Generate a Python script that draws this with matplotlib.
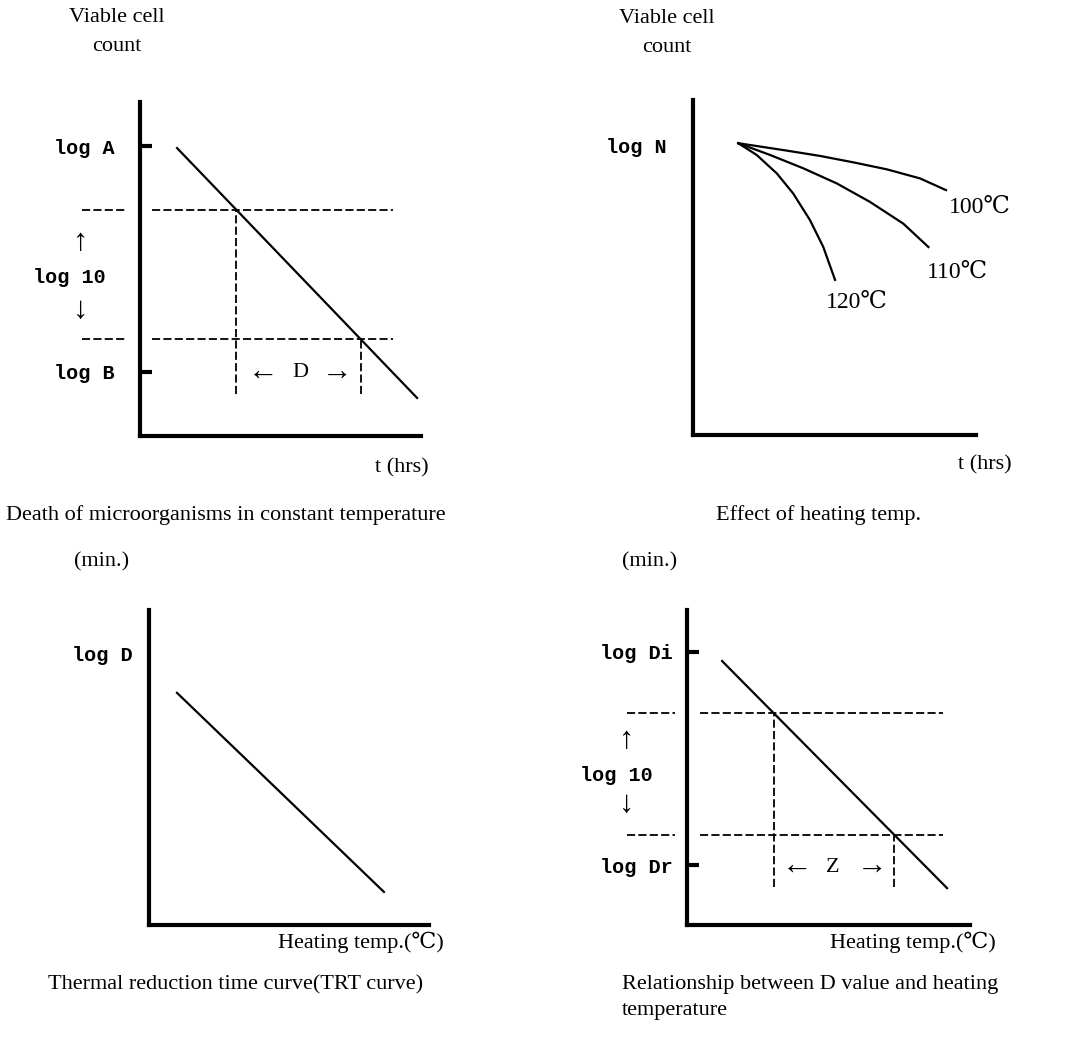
import numpy as np
import matplotlib.pyplot as plt

W, H = 1080, 1060

# Death of microorganisms at constant temperature (log survivors vs time)
death_t = [1.32, 9.86]
death_logn = [8.62, 1.14]
death_levels = [6.77, 2.90]          # one log cycle apart
death_ticks = [8.68, 1.92]
death_tick_labels = ['log A', 'log B']

# Effect of heating temperature on the survivor curve
temps = ['100℃', '110℃', '120℃']
curve_t = [
    [1.60, 3.31, 4.49, 5.66, 6.85, 8.02, 8.94],
    [1.60, 2.72, 3.90, 5.08, 6.25, 7.43, 8.32],
    [1.60, 2.25, 2.96, 3.54, 4.13, 4.60, 5.02],
]
curve_logn = [
    [8.71, 8.49, 8.33, 8.14, 7.93, 7.66, 7.31],
    [8.71, 8.36, 7.96, 7.51, 6.96, 6.31, 5.61],
    [8.71, 8.36, 7.81, 7.21, 6.42, 5.62, 4.63],
]

# Thermal reduction time curve
trt_temp = [1.0, 8.39]
trt_logd = [7.37, 1.05]

# D value vs heating temperature
dz_temp = [1.24, 9.19]
dz_logd = [8.38, 1.17]
dz_levels = [6.73, 2.86]
dz_ticks = [8.67, 1.90]
dz_tick_labels = ['log Di', 'log Dr']

SERIF = ['Liberation Serif', 'DejaVu Serif']
LABEL = dict(family=['Liberation Mono', 'DejaVu Sans Mono'], weight='bold', size=14.5)
TXT = dict(family=SERIF, size=16)
ARROW = dict(family=SERIF, size=22)
DASH = dict(color='black', lw=1.3, ls=(0, (4.5, 1.8)))

fig = plt.figure(figsize=(W / 100, H / 100), dpi=100)
fig.patch.set_facecolor('white')


def panel(left, top, right, bottom):
    ax = fig.add_axes([left / W, 1 - bottom / H, (right - left) / W, (bottom - top) / H])
    ax.set_xlim(0, 10)
    ax.set_ylim(0, 10)
    ax.spines['top'].set_visible(False)
    ax.spines['right'].set_visible(False)
    ax.spines['left'].set_linewidth(3)
    ax.spines['bottom'].set_linewidth(3)
    ax.set_xticks([])
    ax.set_yticks([])
    ax.patch.set_visible(False)
    return ax


def ylabels(ax, ticks, labels, length, pad):
    ax.set_yticks(ticks)
    ax.set_yticklabels(labels, fontdict=LABEL)
    ax.tick_params(axis='y', direction='in', length=length, width=3, pad=pad)


def d_value_marks(ax, x, y, levels, left_seg, main_seg, v_bottom):
    ax.hlines(levels, main_seg[0], main_seg[1], **DASH)
    ax.hlines(levels, left_seg[0], left_seg[1], clip_on=False, **DASH)
    # where the survivor line crosses each reference level
    cross = np.interp(levels, y[::-1], x[::-1])
    ax.vlines(cross, v_bottom, levels, **DASH)
    return cross


# ---- top left
ax1 = panel(140, 102, 421, 436)
ax1.plot(death_t, death_logn, color='black', lw=1.6)
ylabels(ax1, death_ticks, death_tick_labels, 8.5, 18)
d_value_marks(ax1, death_t, death_logn, death_levels, (-2.06, -0.46), (0.43, 9.0), 1.26)
ax1.text(-2.1, 5.78, '↑', ha='center', va='center', **ARROW)
ax1.text(-2.53, 4.76, 'log 10', ha='center', va='center', **LABEL)
ax1.text(-2.1, 3.77, '↓', ha='center', va='center', **ARROW)
ax1.text(4.38, 1.89, '←', ha='center', va='center', **ARROW)
ax1.text(5.69, 1.89, 'D', ha='center', va='center', **TXT)
ax1.text(7.01, 1.89, '→', ha='center', va='center', **ARROW)
ax1.text(-0.82, 12.1, 'Viable cell\ncount', ha='center', va='center', linespacing=1.7, **TXT)
ax1.text(9.32, -0.96, 't (hrs)', ha='center', va='center', **TXT)
ax1.text(3.06, -2.37, 'Death of microorganisms in constant temperature',
         ha='center', va='center', **TXT)

# ---- top right
ax2 = panel(693, 100, 976, 435)
for xs, ys in zip(curve_t, curve_logn):
    ax2.plot(xs, ys, color='black', lw=1.6, solid_joinstyle='round')
ylabels(ax2, [curve_logn[0][0] - 0.08], ['log N'], 0, 19)
for name, (lx, ly) in zip(temps, [(10.14, 6.81), (9.33, 4.87), (5.80, 3.97)]):
    ax2.text(lx, ly, name, ha='center', va='center', family=SERIF, size=17)
ax2.text(-0.92, 12.0, 'Viable cell\ncount', ha='center', va='center', linespacing=1.7, **TXT)
ax2.text(10.32, -0.90, 't (hrs)', ha='center', va='center', **TXT)
ax2.text(4.42, -2.39, 'Effect of heating temp.', ha='center', va='center', **TXT)

# ---- bottom left
ax3 = panel(149, 610, 429, 925)
ax3.plot(trt_temp, trt_logd, color='black', lw=1.6)
ylabels(ax3, [8.63], ['log D'], 0, 11.5)
ax3.text(-1.68, 11.52, '(min.)', ha='center', va='center', **TXT)
ax3.text(4.61, -0.54, 'Heating temp.(℃)', ha='left', va='center', **TXT)
ax3.text(-3.61, -1.90, 'Thermal reduction time curve(TRT curve)', ha='left', va='center', **TXT)

# ---- bottom right
ax4 = panel(687, 610, 970, 925)
ax4.plot(dz_temp, dz_logd, color='black', lw=1.6)
ylabels(ax4, dz_ticks, dz_tick_labels, 8.5, 10)
d_value_marks(ax4, dz_temp, dz_logd, dz_levels, (-2.12, -0.42), (0.46, 9.05), 1.21)
ax4.text(-2.12, 5.87, '↑', ha='center', va='center', **ARROW)
ax4.text(-2.51, 4.76, 'log 10', ha='center', va='center', **LABEL)
ax4.text(-2.12, 3.81, '↓', ha='center', va='center', **ARROW)
ax4.text(3.89, 1.84, '←', ha='center', va='center', **ARROW)
ax4.text(5.16, 1.84, 'Z', ha='center', va='center', **TXT)
ax4.text(6.54, 1.84, '→', ha='center', va='center', **ARROW)
ax4.text(-1.31, 11.52, '(min.)', ha='center', va='center', **TXT)
ax4.text(5.05, -0.54, 'Heating temp.(℃)', ha='left', va='center', **TXT)
ax4.text(-2.30, -2.30, 'Relationship between D value and heating\ntemperature',
         ha='left', va='center', linespacing=1.5, **TXT)

fig.savefig('out.png', dpi=100, facecolor='white')
